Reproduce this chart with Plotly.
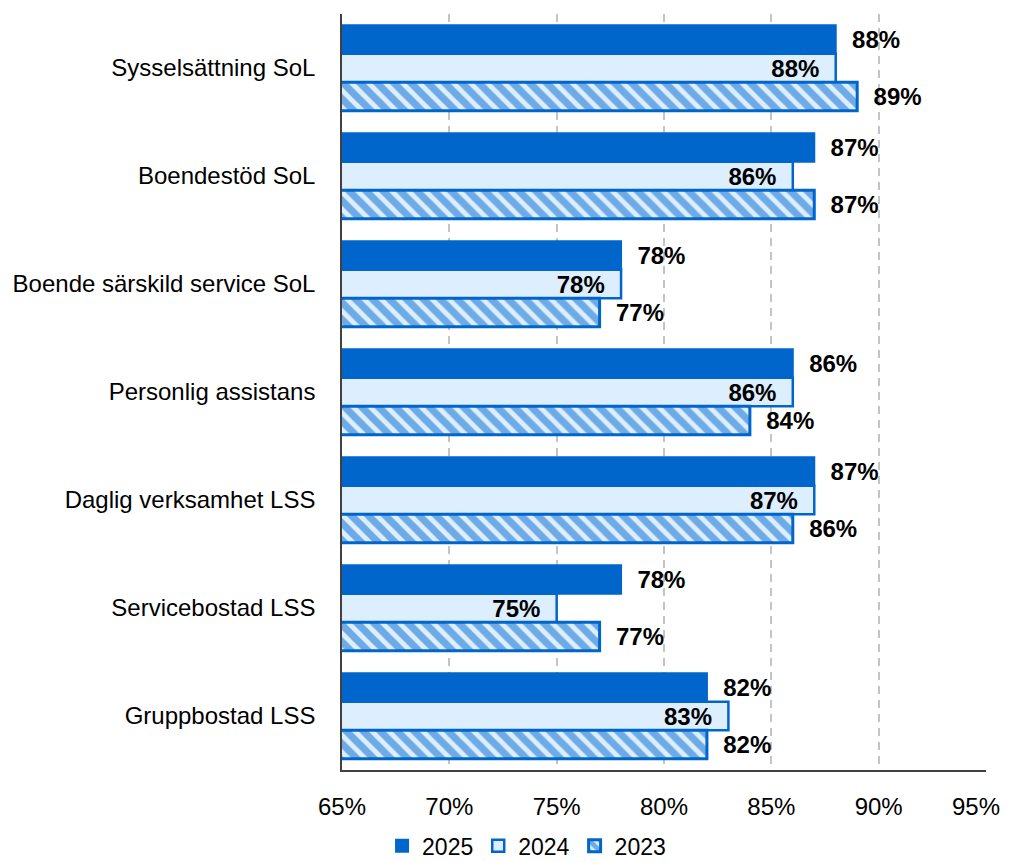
import plotly.graph_objects as go

categories = ["Sysselsättning SoL", "Boendestöd SoL", "Boende särskild service SoL",
              "Personlig assistans", "Daglig verksamhet LSS", "Servicebostad LSS", "Gruppbostad LSS"]
v2025 = [88, 87, 78, 86, 87, 78, 82]
v2024 = [88, 86, 78, 86, 87, 75, 83]
v2023 = [89, 87, 77, 84, 86, 77, 82]
x_ticks = [65, 70, 75, 80, 85, 90, 95]

BLUE = "#0066cc"
LIGHT = "#ddeeff"
NB = "\u00a0"
FAM = "Liberation Sans, Arial, sans-serif"
lab_font = dict(family=FAM, size=24, color="black", weight="bold")

tick_text = [f"{t}%" for t in x_ticks]
tick_text[-1] = tick_text[-1] + NB * 3  # nudge the last label left so it stays on the page

fig = go.Figure()
fig.add_trace(go.Bar(
    name="2025", y=categories, x=v2025, orientation="h",
    marker=dict(color=BLUE, line=dict(color=BLUE, width=2)),
    text=[NB * 2 + f"{v}%" for v in v2025], textposition="outside", textfont=lab_font,
    cliponaxis=False, textangle=0, hoverinfo="x+y",
))
fig.add_trace(go.Bar(
    name="2024", y=categories, x=v2024, orientation="h",
    marker=dict(color=LIGHT, line=dict(color=BLUE, width=2.5)),
    text=[f"{v}%" + NB * 2 for v in v2024], textposition="inside", insidetextanchor="end",
    textfont=lab_font, insidetextfont=lab_font, constraintext="none", textangle=0,
    hoverinfo="x+y",
))
fig.add_trace(go.Bar(
    name="2023", y=categories, x=v2023, orientation="h",
    marker=dict(color=LIGHT, line=dict(color=BLUE, width=3),
                pattern=dict(shape="\\", fgcolor=BLUE, bgcolor=LIGHT, size=12, solidity=0.6)),
    text=[NB * 2 + f"{v}%" for v in v2023], textposition="outside", textfont=lab_font,
    cliponaxis=False, textangle=0, hoverinfo="x+y",
))

fig.update_layout(
    width=1003, height=854,
    margin=dict(l=334, r=25, t=6, b=92, autoexpand=False),
    barmode="group", bargap=0.21, bargroupgap=0,
    plot_bgcolor="white", paper_bgcolor="white",
    font=dict(family=FAM, size=24, color="black"),
    legend=dict(orientation="h", x=0.517, xanchor="center", xref="container",
                y=0.019, yanchor="middle", yref="container",
                font=dict(size=23), itemwidth=30, traceorder="normal"),
    xaxis=dict(range=[65, 95], tickvals=x_ticks, ticktext=tick_text,
               showgrid=True, gridcolor="#c4c4c4", griddash="8px,6px", gridwidth=2,
               showline=True, linecolor="#404040", linewidth=1.5, zeroline=False,
               automargin=False, ticklabelstandoff=14, ticklabeloverflow="allow",
               tickfont=dict(size=24)),
    yaxis=dict(autorange="reversed", showline=True, linecolor="#404040", linewidth=1.5,
               automargin=False, ticklabelstandoff=20, tickfont=dict(size=24), showgrid=False),
)

fig.write_html("out.html")
